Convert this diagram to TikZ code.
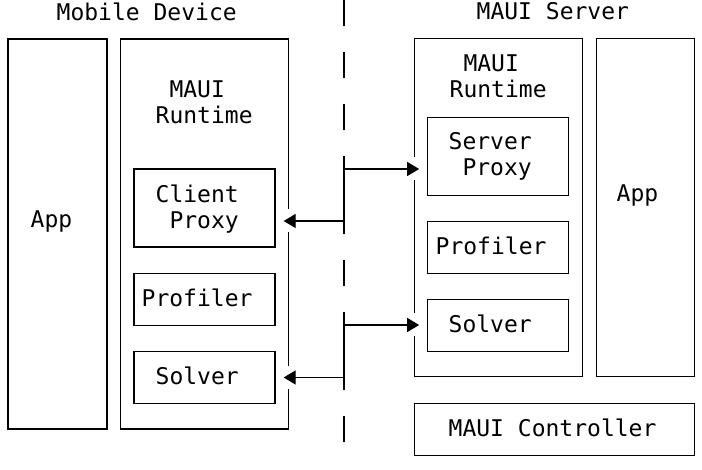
\documentclass[tikz,border=0pt]{standalone}
\usepackage{fontspec}
\setmonofont{DejaVu Sans Mono}
\usetikzlibrary{arrows.meta,positioning}

\begin{document}
\begin{tikzpicture}[x=1pt, y=-1pt]
    % Define styles
    \tikzstyle{unit} = [rectangle, draw, line width=1.3pt, inner sep=0pt]
    \tikzstyle{txt} = [font=\ttfamily\fontsize{23}{26}\selectfont, align=left, anchor=north west, inner sep=0pt]
    \tikzstyle{bus} = [line width=1.3pt]
    \tikzstyle{divider} = [line width=1.3pt, dash pattern=on 26pt off 26pt]
    \tikzstyle{arrow} = [line width=1.3pt, -{Triangle[length=12pt, width=14pt]}, shorten >=8pt,
        preaction={draw=white, line width=23pt, -, shorten <=10pt, shorten >=8pt}]

    \useasboundingbox (0,0) rectangle (702,470);

    % Titles
    \node[txt] (devtitle) at (56.5,2.5) {Mobile Device};
    \node[txt] (srvtitle) at (476.5,2.5) {MAUI Server};

    % Mobile device side
    \node[unit, minimum width=99pt, minimum height=390pt] (app1) at (57.5,234) {};
    \node[unit, minimum width=168pt, minimum height=390pt] (rt1) at (204.2,234) {};
    \node[unit, minimum width=141pt, minimum height=78pt] (cproxy) at (204.5,208) {};
    \node[unit, minimum width=141pt, minimum height=52pt] (prof1) at (204.5,299.5) {};
    \node[unit, minimum width=141pt, minimum height=52pt] (solv1) at (204.5,377.5) {};

    \node[txt] (app1txt) at (30.5,210.5) {App};
    \node[txt] (rt1txt) at (155.5,80.5) {\hphantom{M}MAUI\\Runtime};
    \node[txt] (cproxytxt) at (155.5,184.5) {Client\\\hphantom{M}Proxy};
    \node[txt] (prof1txt) at (141.5,288.5) {Profiler};
    \node[txt] (solv1txt) at (155.5,366.5) {Solver};

    % Server side
    \node[unit, minimum width=168pt, minimum height=338pt] (rt2) at (498.2,207.8) {};
    \node[unit, minimum width=141pt, minimum height=78pt] (sproxy) at (498.3,156.2) {};
    \node[unit, minimum width=141pt, minimum height=52pt] (prof2) at (498.3,247.2) {};
    \node[unit, minimum width=141pt, minimum height=52pt] (solv2) at (498.3,325.2) {};
    \node[unit, minimum width=98pt, minimum height=338pt] (app2) at (645.2,207.8) {};
    \node[unit, minimum width=280pt, minimum height=52pt] (ctrl) at (554.2,429.2) {};

    \node[txt] (rt2txt) at (449.5,54.5) {\hphantom{M}MAUI\\Runtime};
    \node[txt] (sproxytxt) at (448.5,132.5) {Server\\\hphantom{M}Proxy};
    \node[txt] (prof2txt) at (435.5,236.5) {Profiler};
    \node[txt] (solv2txt) at (448.5,314.5) {Solver};
    \node[txt] (app2txt) at (616.5,184.5) {App};
    \node[txt] (ctrltxt) at (448.5,418.5) {MAUI Controller};

    % Divider
    \coordinate (divtop) at (344,0);
    \coordinate (divbot) at (344,442);
    \draw[divider] (divtop) -- (divbot);

    % Proxy link
    \coordinate (bus1top) at (344,156);
    \coordinate (bus1bot) at (344,234);
    \coordinate (j1) at (344,169);
    \coordinate (j2) at (344,221);
    \draw[arrow] (j1) -- (sproxy.west |- j1);
    \draw[arrow] (j2) -- (cproxy.east |- j2);
    \draw[bus] (bus1top) -- (bus1bot);

    % Solver link
    \coordinate (bus2top) at (344,312);
    \coordinate (bus2bot) at (344,390);
    \coordinate (j3) at (344,325);
    \coordinate (j4) at (344,377.5);
    \draw[arrow] (j3) -- (solv2.west |- j3);
    \draw[arrow] (j4) -- (solv1.east |- j4);
    \draw[bus] (bus2top) -- (bus2bot);

\end{tikzpicture}
\end{document}
